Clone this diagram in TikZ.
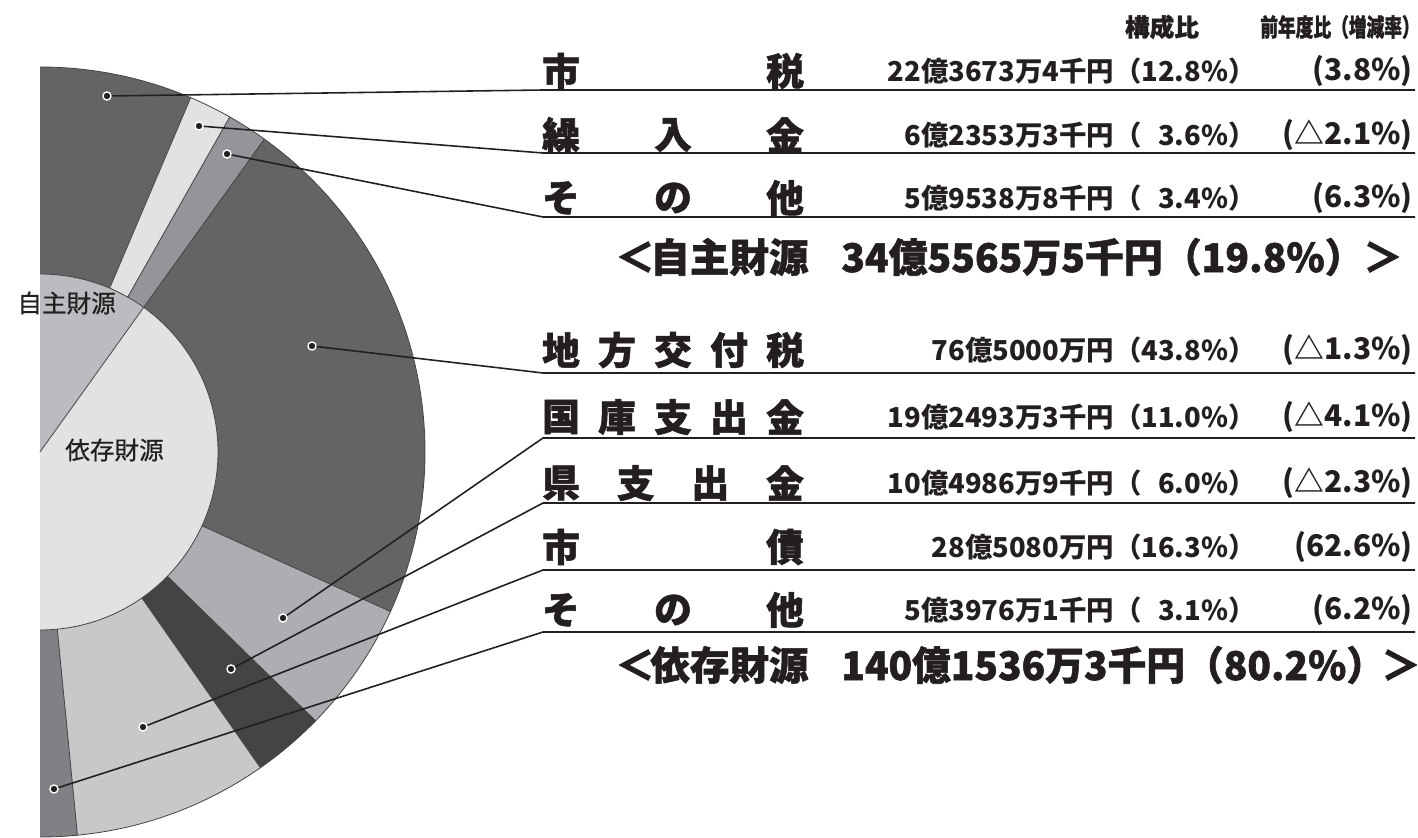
\documentclass[tikz,border=0pt]{standalone}
\usepackage{fontspec}
\setmainfont{Noto Sans CJK JP}
\newfontfamily\heavyfont{Noto Sans CJK JP}[FakeBold=1.4]
\newfontfamily\pielabfont{Noto Sans CJK JP}[FakeBold=0.6]
\usetikzlibrary{positioning}
\definecolor{inkcolor}{HTML}{231F20}
\definecolor{darkslice}{HTML}{636466}
\definecolor{paleslice}{HTML}{E1E2E4}
\definecolor{midslice}{HTML}{939598}
\definecolor{kokoslice}{HTML}{ADAEB1}
\definecolor{kenslice}{HTML}{434446}
\definecolor{shisaislice}{HTML}{C7C8CA}
\definecolor{otherslice}{HTML}{808184}
\definecolor{jishucolor}{HTML}{BBBCBF}
\tikzset{
	sep/.style={
		draw=inkcolor!85,
		line width=0.45pt
	},
	leader/.style={
		draw=inkcolor,
		line width=0.9pt
	},
	dot/.style={
		circle,
		fill=inkcolor,
		draw=white,
		line width=0.8pt,
		minimum size=4.6pt,
		inner sep=0pt
	},
	rowchar/.style={
		font=\fontsize{21.5}{22}\heavyfont\bfseries,
		text=inkcolor,
		inner sep=0pt
	},
	amount/.style={
		font=\fontsize{15.6}{16}\selectfont\bfseries,
		text=inkcolor,
		anchor=east,
		inner sep=0pt
	},
	rate/.style={
		font=\fontsize{17}{17}\selectfont\bfseries,
		text=inkcolor,
		anchor=east,
		inner sep=0pt
	},
	total/.style={
		font=\fontsize{22.5}{23}\heavyfont\bfseries,
		text=inkcolor,
		inner sep=0pt
	},
	header/.style={
		font=\fontsize{14}{14}\heavyfont\bfseries,
		text=inkcolor,
		inner sep=0pt
	},
	pielabel/.style={
		font=\fontsize{14}{14}\pielabfont,
		text=inkcolor,
		inner sep=0pt
	}
}
\begin{document}
\begin{tikzpicture}[x=0.02cm,y=-0.02cm]
\useasboundingbox (0,0) rectangle (1418,838);
% pie, only the right half
\begin{scope}[shift={(40,452)}]
	\def\Ro{385}
	\def\Ri{178}
	\foreach \a/\b/\c in {-90/-66.96/darkslice,-66.96/-60.48/paleslice,-60.48/-54.36/midslice,
		-54.36/24.48/darkslice,24.48/44.28/kokoslice,44.28/55.08/kenslice,
		55.08/84.42/shisaislice,84.42/90/otherslice}
		\fill[\c] (\a:\Ri) -- (\a:\Ro) arc[start angle=\a, end angle=\b, radius=\Ro]
			-- (\b:\Ri) arc[start angle=\b, end angle=\a, radius=\Ri] -- cycle;
	\fill[jishucolor] (0,0) -- (-90:\Ri) arc[start angle=-90, end angle=-54.36, radius=\Ri] -- cycle;
	\fill[paleslice] (0,0) -- (-54.36:\Ri) arc[start angle=-54.36, end angle=90, radius=\Ri] -- cycle;
	\foreach \a in {-66.96,-60.48,-54.36,24.48,44.28,55.08,84.42}
		\draw[sep] (\a:\Ri) -- (\a:\Ro);
	\draw[sep] (0,0) -- (-54.36:\Ri);
	\draw[sep] (-90:\Ro) arc[start angle=-90, end angle=90, radius=\Ro];
	\draw[sep] (-90:\Ri) arc[start angle=-90, end angle=90, radius=\Ri];
\end{scope}
\node[pielabel, anchor=west] (jishu) at (17,303) {自主財源};
\node[pielabel, anchor=west] (izon) at (65,450) {依存財源};

% dots and leaders
\foreach \dx/\dy/\uy [count=\k] in {107/96/90,199/126/153,227/154/217,312/346/373,
	283/618/438,231/669/503,143/727/570,54/789/632}
{
	\node[dot] (d\k) at (\dx,\dy) {};
	\coordinate (c\k) at (543,\uy);
	\coordinate (e\k) at (1415,\uy);
	\draw[leader] (d\k) -- (c\k) -- (e\k);
}

% headers
\node[header] (hdr1) at (1162,27) {構成比};
\node[header, anchor=east, xscale=0.72] (hdr2) at (1412,27) {前年度比（増減率）\kern-0.45em};

% rows
\foreach \y/\lab/\n/\amt/\rate [count=\r] in {
	71/{市,税}/2/{22億3673万4千円（12.8\%）}/{(3.8\%)},
	135/{繰,入,金}/3/{6億2353万3千円（\hphantom{1}3.6\%）}/{(△2.1\%)},
	198/{そ,の,他}/3/{5億9538万8千円（\hphantom{1}3.4\%）}/{(6.3\%)},
	350/{地,方,交,付,税}/5/{76億5000万円（43.8\%）}/{(△1.3\%)},
	417/{国,庫,支,出,金}/5/{19億2493万3千円（11.0\%）}/{(△4.1\%)},
	483/{県,支,出,金}/4/{10億4986万9千円（\hphantom{1}6.0\%）}/{(△2.3\%)},
	547/{市,債}/2/{28億5080万円（16.3\%）}/{(62.6\%)},
	610/{そ,の,他}/3/{5億3976万1千円（\hphantom{1}3.1\%）}/{(6.2\%)}}
{
	\foreach \ch [count=\i] in \lab {
		\pgfmathsetmacro{\lx}{561+(\i-1)*224/(\n-1)}
		\node[rowchar] (lab\r-\i) at (\lx,\y) {\ch};
	}
	\node[amount] (amt\r) at (1256,\y) {\amt};
	\node[rate] (rate\r) at (1413,\y) {\rate};
}

% totals
\node[total] (tot1a) at (635,257) {＜};
\node[total, anchor=west] (tot1b) at (650,257) {自主財源};
\node[total, anchor=west, xscale=0.984] (tot1c) at (841,257) {34億5565万5千円（19.8\%）};
\node[total] (tot1d) at (1383,257) {＞};
\node[total] (tot2a) at (635,665) {＜};
\node[total, anchor=west] (tot2b) at (650,665) {依存財源};
\node[total, anchor=west, xscale=0.98] (tot2c) at (841,665) {140億1536万3千円（80.2\%）};
\node[total] (tot2d) at (1401,665) {＞};
\end{tikzpicture}
\end{document}
